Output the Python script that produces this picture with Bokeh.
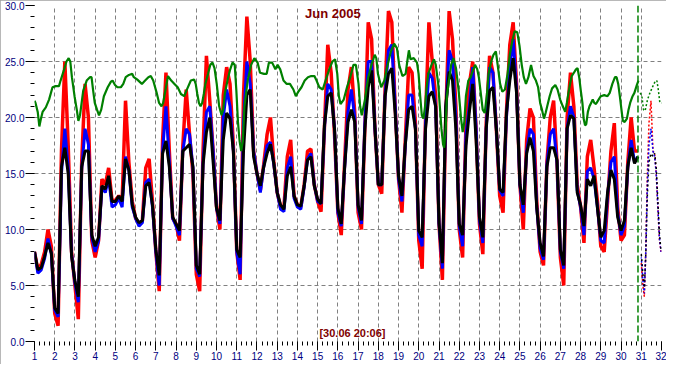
import math
from bokeh.plotting import figure
from bokeh.models import Range1d, FixedTicker, PrintfTickFormatter, Label, Span
from bokeh.embed import file_html
from bokeh.resources import INLINE

# ---- data: 4-hourly readings (00,04,08,12,16,20 h) from 1 Jun 00:00 ----
black_vals = [
    8.0, 6.4, 6.6, 7.6, 8.8, 7.9,
    3.0, 2.5, 15.6, 17.3, 15.0, 7.6,
    5.4, 4.0, 15.6, 17.0, 17.0, 9.5,
    8.5, 9.3, 13.9, 13.6, 14.8, 12.5,
    12.5, 13.0, 12.5, 16.3, 15.3, 12.2,
    11.1, 10.6, 10.8, 13.9, 14.2, 12.2,
    8.2, 5.9, 16.8, 17.9, 15.6, 11.1,
    10.5, 9.9, 17.0, 17.3, 17.6, 15.6,
    6.8, 6.0, 15.8, 18.7, 20.0, 16.0,
    11.9, 10.8, 18.0, 20.4, 19.9, 17.0,
    8.2, 7.5, 17.0, 22.0, 22.5, 16.5,
    15.0, 13.9, 15.6, 16.8, 17.6, 15.9,
    13.3, 12.2, 11.8, 14.8, 15.6, 13.0,
    12.2, 12.1, 13.9, 16.2, 16.5, 13.9,
    12.7, 12.3, 19.3, 21.9, 22.2, 19.0,
    11.9, 10.5, 15.6, 19.6, 20.7, 19.6,
    12.2, 10.8, 19.0, 22.7, 24.2, 19.0,
    14.0, 14.0, 21.9, 23.9, 24.4, 20.4,
    14.8, 13.0, 17.6, 20.7, 21.0, 19.0,
    9.9, 9.3, 19.0, 21.9, 22.3, 21.0,
    10.6, 7.0, 21.0, 24.1, 23.3, 19.0,
    10.5, 9.5, 17.5, 20.5, 23.0, 18.0,
    11.1, 9.3, 19.0, 22.4, 22.7, 19.0,
    13.6, 13.3, 20.4, 23.3, 25.3, 22.2,
    14.0, 12.2, 16.8, 18.2, 17.0, 11.9,
    8.8, 7.6, 15.6, 17.3, 17.3, 16.2,
    8.2, 6.8, 19.0, 20.2, 19.9, 13.3,
    12.2, 10.3, 14.5, 13.9, 14.8, 11.9,
    9.3, 9.9, 13.3, 15.3, 14.5, 11.1,
    9.9, 10.8, 15.6, 17.3, 15.9, 16.5,
]
red_vals = [
    8.0, 6.4, 6.9, 8.0, 10.0, 8.5,
    2.5, 1.4, 17.0, 25.0, 17.5, 8.0,
    5.0, 2.0, 16.0, 23.0, 20.0, 9.0,
    7.5, 9.0, 14.5, 14.0, 15.5, 12.6,
    12.6, 13.0, 12.6, 21.5, 16.0, 12.5,
    11.0, 10.5, 10.8, 15.5, 16.3, 12.5,
    8.0, 4.5, 18.0, 24.0, 17.0, 11.0,
    10.5, 9.0, 17.5, 22.5, 18.5, 15.0,
    6.0, 4.5, 17.0, 25.5, 21.5, 17.0,
    12.0, 10.0, 22.0, 24.5, 23.0, 17.5,
    8.0, 5.5, 22.0, 29.0, 25.0, 17.0,
    15.0, 13.5, 15.8, 18.5, 20.0, 16.0,
    13.3, 12.0, 12.0, 16.5, 18.0, 13.0,
    12.2, 12.0, 14.0, 17.0, 17.2, 14.0,
    12.5, 11.6, 19.0, 26.5, 24.0, 18.5,
    11.5, 9.5, 16.0, 22.5, 24.5, 20.5,
    11.5, 10.0, 19.0, 28.5, 27.0, 19.0,
    14.0, 13.2, 22.5, 29.5, 28.5, 21.0,
    14.5, 11.5, 18.0, 24.5, 24.0, 19.5,
    9.0, 6.5, 20.0, 28.5, 25.0, 22.0,
    10.5, 5.5, 20.0, 29.5, 27.0, 21.0,
    10.0, 7.5, 19.5, 23.0, 25.0, 19.0,
    10.5, 7.8, 19.5, 25.5, 24.0, 19.0,
    13.0, 11.5, 20.5, 26.5, 28.5, 23.0,
    14.0, 10.0, 18.0, 20.8, 20.0, 12.5,
    8.0, 6.8, 16.0, 20.0, 21.5, 16.0,
    7.5, 5.0, 20.0, 24.0, 21.0, 14.0,
    12.0, 8.8, 16.5, 18.0, 15.5, 12.5,
    8.5, 8.0, 12.5, 17.0, 19.5, 12.0,
    9.0, 9.5, 16.0, 20.0, 17.0, 17.0,
]
blue_vals = [
    8.0, 6.1, 6.4, 7.4, 9.2, 7.8,
    2.8, 2.2, 15.0, 19.0, 15.5, 7.8,
    5.2, 3.5, 15.4, 19.0, 17.6, 9.3,
    8.0, 9.0, 13.8, 13.3, 14.6, 12.0,
    12.2, 12.8, 12.0, 16.5, 15.3, 12.0,
    11.0, 10.3, 10.6, 14.2, 14.5, 12.0,
    8.0, 5.0, 17.0, 21.0, 16.0, 11.0,
    10.3, 9.5, 17.0, 19.0, 18.5, 15.5,
    6.5, 5.8, 16.0, 20.5, 21.0, 17.0,
    11.9, 10.5, 20.0, 22.5, 21.0, 17.0,
    8.0, 6.0, 19.5, 25.0, 23.0, 17.0,
    15.0, 13.3, 15.6, 17.5, 17.8, 15.8,
    13.3, 11.8, 11.6, 15.5, 16.5, 12.8,
    12.0, 11.8, 13.8, 16.3, 16.8, 14.0,
    12.5, 12.3, 19.0, 23.0, 22.5, 19.0,
    11.5, 10.3, 15.5, 20.5, 22.5, 20.0,
    12.0, 10.5, 19.5, 25.0, 25.0, 19.0,
    14.0, 14.0, 22.0, 26.0, 26.5, 21.0,
    14.5, 12.5, 17.5, 22.0, 22.0, 19.0,
    9.5, 8.5, 19.5, 24.0, 23.5, 21.0,
    10.5, 6.5, 20.5, 26.0, 25.0, 20.0,
    10.3, 8.5, 18.5, 21.0, 24.5, 19.0,
    10.8, 8.8, 19.0, 24.5, 24.0, 19.0,
    13.5, 13.0, 20.0, 24.5, 27.0, 22.5,
    14.0, 11.5, 17.0, 19.0, 18.5, 12.0,
    8.3, 7.3, 15.8, 18.5, 19.0, 16.0,
    8.0, 6.5, 19.0, 21.0, 20.0, 13.5,
    12.0, 9.5, 15.2, 15.5, 14.5, 12.0,
    9.0, 8.8, 13.0, 16.0, 16.5, 11.5,
    9.5, 10.3, 15.5, 18.0, 16.0, 16.5,
]

# indoor (green) series: day position and value
green_day = [
    1.00, 1.05, 1.16, 1.24, 1.32, 1.40, 1.56, 1.72, 1.89, 2.05, 2.21, 2.29, 2.45, 2.58, 2.69, 2.77, 2.85, 2.98,
    3.09, 3.17, 3.25, 3.33, 3.41, 3.58, 3.74, 3.82, 3.90, 3.98, 4.09, 4.19, 4.30, 4.43, 4.62, 4.78, 4.86, 4.98,
    5.10, 5.27, 5.39, 5.51, 5.67, 5.83, 5.91, 6.07, 6.31, 6.47, 6.63, 6.75, 6.87, 7.04, 7.16, 7.28, 7.36, 7.60,
    7.76, 7.92, 8.08, 8.24, 8.40, 8.56, 8.73, 8.89, 8.97, 9.05, 9.13, 9.21, 9.29, 9.37, 9.45, 9.58, 9.69, 9.80,
    9.90, 10.01, 10.13, 10.25, 10.33, 10.41, 10.54, 10.66, 10.79, 10.90, 10.98, 11.06, 11.14, 11.22, 11.30,
    11.38, 11.54, 11.71, 11.87, 12.03, 12.15, 12.35, 12.48, 12.59, 12.75, 12.91, 13.02, 13.15, 13.31, 13.47,
    13.63, 13.80, 13.92, 14.04, 14.20, 14.36, 14.52, 14.68, 14.84, 14.92, 15.08, 15.25, 15.41, 15.57, 15.73,
    15.86, 15.97, 16.05, 16.13, 16.29, 16.45, 16.61, 16.77, 16.89, 17.02, 17.10, 17.18, 17.34, 17.50, 17.66,
    17.82, 17.90, 17.98, 18.14, 18.30, 18.46, 18.62, 18.78, 18.92, 19.03, 19.19, 19.35, 19.43, 19.51, 19.59,
    19.75, 19.91, 19.99, 20.07, 20.15, 20.23, 20.31, 20.39, 20.47, 20.55, 20.63, 20.75, 20.84, 20.96, 21.04,
    21.12, 21.20, 21.25, 21.33, 21.39, 21.49, 21.60, 21.71, 21.84, 21.97, 22.09, 22.17, 22.25, 22.33, 22.45,
    22.57, 22.68, 22.78, 22.89, 22.97, 23.05, 23.16, 23.26, 23.37, 23.45, 23.58, 23.69, 23.81, 23.90, 24.02,
    24.13, 24.26, 24.39, 24.50, 24.61, 24.74, 24.87, 24.98, 25.09, 25.19, 25.30, 25.42, 25.55, 25.67, 25.79,
    25.90, 26.00, 26.09, 26.19, 26.27, 26.35, 26.47, 26.59, 26.75, 26.86, 26.99, 27.12, 27.24, 27.32, 27.40,
    27.48, 27.56, 27.67, 27.77, 27.85, 27.93, 28.01, 28.09, 28.15, 28.22, 28.28, 28.36, 28.44, 28.52, 28.60,
    28.68, 28.76, 28.89, 29.00, 29.17, 29.33, 29.44, 29.57, 29.70, 29.78, 29.86, 29.94, 30.02, 30.09, 30.18,
    30.29, 30.37, 30.45, 30.57, 30.66, 30.78, 30.86,
]
green_vals = [
    21.5, 21.3, 20.5, 19.2, 19.9, 20.5, 20.9, 21.6, 22.7, 22.8, 22.8, 23.3, 24.2, 25.0, 25.3, 25.0, 23.6, 21.9,
    20.7, 19.7, 20.2, 21.3, 22.4, 23.3, 23.6, 23.6, 22.4, 21.3, 20.7, 20.2, 20.7, 21.9, 22.7, 23.2, 23.3, 22.9,
    22.7, 22.7, 23.0, 23.6, 23.8, 23.9, 23.6, 23.4, 23.0, 23.3, 23.6, 23.7, 23.3, 22.2, 21.3, 21.0, 21.3, 23.7,
    23.3, 23.0, 22.7, 22.1, 21.9, 22.6, 23.3, 23.4, 23.0, 22.1, 21.3, 21.0, 21.3, 22.1, 23.0, 23.9, 24.7, 24.9,
    24.4, 23.0, 21.0, 20.2, 20.7, 22.1, 23.3, 24.2, 24.9, 24.7, 22.4, 19.6, 17.9, 17.0, 17.9,
    21.0, 23.3, 24.7, 25.3, 24.9, 24.0, 23.9, 23.9, 24.9, 24.9, 24.3, 24.7, 24.3, 23.3, 23.0,
    23.0, 22.5, 21.9, 22.3, 22.7, 23.3, 23.6, 23.7, 23.7, 23.4, 22.7, 22.5, 23.4, 24.3, 25.0,
    25.2, 23.9, 21.9, 21.2, 21.6, 22.7, 23.6, 24.7, 24.7, 23.0, 21.0, 20.2, 21.6, 23.6, 24.7,
    25.6, 25.3, 23.9, 22.7, 23.3, 24.7, 25.9, 26.6, 26.2, 24.7, 23.7, 23.9, 25.0, 26.0, 25.2,
    25.3, 24.9, 23.9, 21.9, 20.2, 19.9, 21.0, 22.7, 23.9, 24.3, 24.7, 25.2, 24.7, 23.0, 21.0,
    19.0, 17.6, 17.3, 19.0, 21.9, 23.3, 24.7, 25.3, 24.4, 22.4, 19.9, 18.7, 19.6, 21.9, 23.3,
    23.6, 24.2, 24.7, 24.3, 23.6, 22.4, 20.7, 20.4, 22.1, 23.9, 25.0, 25.6, 25.9, 24.7, 23.0,
    22.3, 22.5, 23.9, 25.6, 26.7, 27.7, 27.6, 26.4, 24.7, 23.6, 23.0, 23.6, 24.7, 23.7, 23.3,
    22.7, 21.3, 20.7, 19.9, 20.4, 21.0, 21.9, 22.6, 22.9, 22.5, 21.6, 21.0, 20.5, 21.3, 22.2,
    23.0, 23.7, 24.0, 24.3, 24.4, 23.6, 22.4, 21.3, 19.9, 19.3, 19.4, 20.5, 21.0, 21.3, 21.6,
    21.3, 21.2, 21.6, 21.9, 22.0, 21.9, 22.2, 23.0, 23.6, 23.6, 23.0, 21.9, 20.7, 19.7, 19.6,
    19.9, 20.7, 21.3, 21.9, 22.2, 22.9, 23.3,
]

# trailing (dotted) segment after the current time
tail_day = [31.00, 31.08, 31.15, 31.22, 31.30, 31.38, 31.48, 31.58, 31.66, 31.74, 31.82, 31.90, 31.98]
tail_black = [7.8, 6.0, 4.8, 7.5, 13.0, 16.0, 16.8, 16.5, 16.8, 15.5, 12.5, 9.5, 8.2]
tail_red = [7.0, 5.0, 4.0, 8.0, 15.0, 19.5, 21.5, 17.0, 16.8, 15.0, 12.0, 9.0, 8.0]
tail_blue = [7.5, 5.5, 4.3, 7.8, 14.0, 17.5, 19.0, 17.0, 16.5, 15.0, 12.0, 9.2, 8.0]
tail_green_day = [30.95, 31.03, 31.11, 31.19, 31.31, 31.43, 31.55, 31.68, 31.77, 31.84, 31.92, 32.00]
tail_green = [22.2, 21.9, 20.7, 20.6, 21.6, 22.2, 22.7, 23.2, 23.3, 22.5, 21.3, 21.3]

x_ticks = list(range(1, 33))
y_ticks = [0, 5, 10, 15, 20, 25, 30]
title_text = "Jun 2005"
stamp_text = "[30.06 20:06]"
now_day = 30 + (20 + 6 / 60) / 24

steps = 6
t = [1 + i / steps for i in range(len(black_vals))]

NAVY = "#000080"
DARKRED = "#800000"
FONT = "Liberation Sans"

p = figure(width=666, height=364, output_backend="svg", toolbar_location=None,
           x_range=Range1d(1, 32), y_range=Range1d(0, 30),
           min_border_left=34, min_border_right=5, min_border_top=5, min_border_bottom=23)
p.outline_line_color = None
p.background_fill_color = "white"
p.border_fill_color = "white"
p.styles = {"outline": "2px solid #a0a0a0", "outline-offset": "-2px"}

# axes
xa = p.xaxis[0]
xa.ticker = FixedTicker(ticks=x_ticks, minor_ticks=[1 + k * 0.25 for k in range(125)])
ya = p.yaxis[0]
ya.ticker = FixedTicker(ticks=y_ticks, minor_ticks=list(range(0, 31)))
ya.formatter = PrintfTickFormatter(format="%.1f")
for ax in (xa, ya):
    ax.axis_line_color = None
    ax.major_tick_line_color = "black"
    ax.minor_tick_line_color = "black"
    ax.major_tick_in = 0
    ax.minor_tick_in = 0
    ax.major_label_text_color = NAVY
    ax.major_label_text_font = FONT
    ax.major_label_text_font_size = "10px"
xa.major_tick_out = 9
xa.minor_tick_out = 4
xa.major_label_standoff = 1
ya.major_tick_out = 9
ya.minor_tick_out = 4
ya.major_label_standoff = 1

# grid
p.xgrid[0].ticker = FixedTicker(ticks=x_ticks[1:-1])
p.ygrid[0].ticker = FixedTicker(ticks=y_ticks[1:-1])
for g in (p.xgrid[0], p.ygrid[0]):
    g.grid_line_color = "#808080"
    g.grid_line_dash = "4 3"
    g.grid_line_width = 1

# series
p.line(t, red_vals, color="#ff0000", line_width=3.5)
p.line(t, blue_vals, color="#0000ff", line_width=3)
p.line(t, black_vals, color="#000000", line_width=3)
p.line(green_day, green_vals, color="#008000", line_width=2.2)

p.line(tail_day, tail_red, color="#ff0000", line_width=1.5, line_dash="2 2")
p.line(tail_day, tail_blue, color="#0000ff", line_width=1.5, line_dash="2 2", line_dash_offset=1)
p.line(tail_day, tail_black, color="#000000", line_width=1.5, line_dash="2 3")
p.line(tail_green_day, tail_green, color="#008000", line_width=1.5, line_dash="2 2")

p.add_layout(Span(location=now_day, dimension="height", line_color="#008000",
                  line_width=1.5, line_dash="7 3"))

# texts
p.add_layout(Label(x=15.75, y=29.3, text=title_text, text_align="center", text_baseline="middle",
                   text_color=DARKRED, text_font=FONT, text_font_style="bold",
                   text_font_size="13px"))
p.add_layout(Label(x=16.72, y=0.8, text=stamp_text, text_align="center", text_baseline="middle",
                   text_color=DARKRED, text_font=FONT, text_font_style="bold",
                   text_font_size="11px"))
p.add_layout(Label(x=-23, x_units="screen", y=15.2, text="°C", angle=math.pi / 2,
                   text_align="center", text_baseline="middle",
                   text_color=DARKRED, text_font=FONT, text_font_size="10px"))

open("out.html", "w").write(file_html(p, INLINE))
